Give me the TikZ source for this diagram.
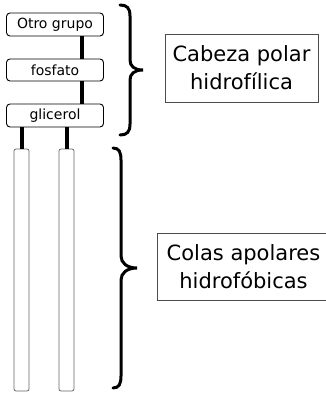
\documentclass[tikz,border=0pt]{standalone}
\usepackage{fontspec}
\setmainfont{DejaVu Sans}
\begin{document}
\begin{tikzpicture}[x=1pt,y=-1pt,
  part/.style={draw=black,line width=0.9pt,rounded corners=3.5pt,minimum width=97pt,inner sep=0pt,font=\fontsize{14}{16}\selectfont,fill=white},
  tail/.style={draw=black!60,line width=0.8pt,rounded corners=2pt,minimum width=15pt,minimum height=242pt,inner sep=0pt},
  link/.style={line width=4pt},
  label/.style={draw=black!70,line width=0.9pt,align=center,inner sep=0pt,font=\fontsize{21}{28}\selectfont},
  bracestyle/.style={line width=3pt,line cap=round}]
\useasboundingbox (0,0) rectangle (326,393);
\node[part,minimum height=23pt] (otro) at (55,24.5) {Otro grupo};
\node[part,minimum height=22pt] (fos) at (55,70) {fosfato};
\node[part,minimum height=23pt] (gli) at (55,115.5) {glicerol};
\node[tail] (t1) at (21.5,270) {};
\node[tail] (t2) at (66.5,270) {};
\draw[link] ([xshift=27pt]otro.south) -- ([xshift=27pt]fos.north);
\draw[link] ([xshift=27pt]fos.south) -- ([xshift=27pt]gli.north);
\draw[link] (t1.north |- gli.south) -- (t1.north);
\draw[link] (t2.north |- gli.south) -- (t2.north);
\node[label,minimum width=153pt,minimum height=68pt] (cab) at (241.5,68) {Cabeza polar\\hidrofílica};
\node[label,minimum width=173pt,minimum height=67pt] (col) at (243.5,266.5) {Colas apolares\\hidrofóbicas};
\draw[bracestyle] (120,5) .. controls (127,5) and (130,8) .. (130,16) -- (130,60)
  .. controls (130,66) and (134,70) .. (143,70)
  .. controls (134,70) and (130,74) .. (130,80) -- (130,124)
  .. controls (130,132) and (127,135) .. (120,135);
\draw[bracestyle] (113,148) .. controls (119,148) and (121,152) .. (121,160) -- (121,256)
  .. controls (121,263) and (127,268) .. (137,268)
  .. controls (127,268) and (121,273) .. (121,280) -- (121,376)
  .. controls (121,384) and (119,388) .. (113,388);
\end{tikzpicture}
\end{document}
